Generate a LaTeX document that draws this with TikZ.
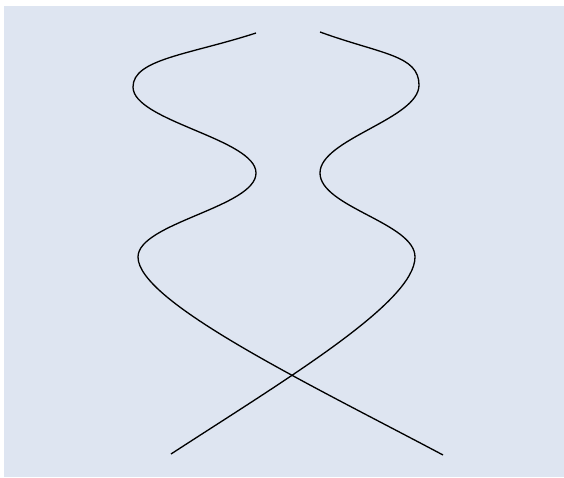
\documentclass[tikz,border=0pt]{standalone}
\usepackage{tikz}
\usepackage{xcolor}
\definecolor{PaneBlue}{HTML}{DEE5F1}

\begin{document}
\begin{tikzpicture}[x=0.02cm, y=0.02cm,
   strand/.style={draw=black, line width=0.75pt}]
  \useasboundingbox (0,0) rectangle (564,477);
  \fill[PaneBlue] (4,0) rectangle (564,471);
  % Umkehrpunkte der linken Linie
  \coordinate (l0) at (256,444);
  \coordinate (l1) at (133,390);
  \coordinate (l2) at (256,304);
  \coordinate (l3) at (138,220);
  \coordinate (l4) at (443,22);
  % Umkehrpunkte der rechten Linie
  \coordinate (r0) at (320,445);
  \coordinate (r1) at (419,392);
  \coordinate (r2) at (320,304);
  \coordinate (r3) at (415,220);
  \coordinate (r4) at (171,23);
  \path[strand] (l0) .. controls +(198:70) and +(90:28) .. (l1)
    .. controls +(270:34) and +(90:34) .. (l2)
    .. controls +(270:34) and +(90:34) .. (l3)
    .. controls +(270:45) and +(152:150) .. (l4);
  \path[strand] (r0) .. controls +(-20:65) and +(90:30) .. (r1)
    .. controls +(270:34) and +(90:34) .. (r2)
    .. controls +(270:34) and +(90:34) .. (r3)
    .. controls +(270:45) and +(33:140) .. (r4);
\end{tikzpicture}
\end{document}
